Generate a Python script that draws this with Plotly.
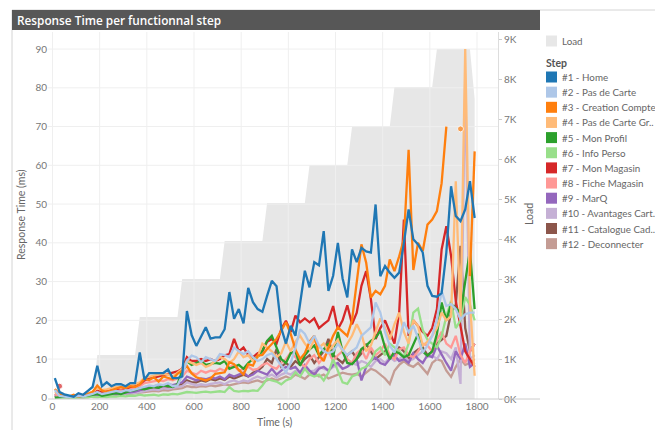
import plotly.graph_objects as go

# ---------------- data ----------------
time_s = list(range(10, 1800, 20))  # sample times (s), 90 samples

load = [
    0, 0, 0, 0, 0, 0, 0, 0, 0, 1100,
    1100, 1100, 1100, 1100, 1100, 1100, 1100, 1100, 2050, 2050,
    2050, 2050, 2050, 2050, 2050, 2050, 2050, 3000, 3000, 3000,
    3000, 3000, 3000, 3000, 3000, 3000, 3950, 3950, 3950, 3950,
    3950, 3950, 3950, 3950, 3950, 4900, 4900, 4900, 4900, 4900,
    4900, 4900, 4900, 4900, 5850, 5850, 5850, 5850, 5850, 5850,
    5850, 5850, 5850, 6800, 6800, 6800, 6800, 6800, 6800, 6800,
    6800, 6800, 7800, 7800, 7800, 7800, 7800, 7800, 7800, 7800,
    7800, 8750, 8750, 8750, 8750, 8750, 8750, 8750, 8750, 7500]

s1_home = [
    5.1, 1.5, 0.9, 0.5, 0.3, 1.2, 0.8, 1.8, 2.8, 8.3,
    3.0, 4.0, 3.0, 3.5, 3.5, 3.0, 3.8, 3.8, 11.7, 4.7,
    6.4, 6.4, 6.4, 6.4, 7.3, 5.1, 5.1, 5.5, 22.4, 16.2,
    13.4, 15.9, 18.2, 15.3, 15.6, 15.6, 17.7, 27.3, 20.4, 22.9,
    19.2, 28.4, 24.7, 22.9, 22.2, 26.3, 30.2, 28.8, 18.0, 14.0,
    18.6, 16.0, 25.0, 32.8, 28.5, 35.0, 34.2, 43.0, 27.6, 31.5,
    40.0, 30.8, 25.9, 38.3, 35.0, 38.7, 37.8, 37.5, 49.9, 31.4,
    34.0, 32.3, 31.0, 32.3, 40.0, 48.6, 40.9, 39.6, 37.5, 28.9,
    26.3, 26.1, 27.0, 37.5, 54.6, 46.9, 45.6, 48.6, 55.9, 46.4]

s2_pas_de_carte = [
    2.0, 0.5, 0.3, 0.2, 0.3, 0.5, 0.3, 0.6, 1.0, 1.5,
    1.0, 1.2, 1.5, 1.8, 1.5, 2.0, 1.8, 2.2, 2.5, 3.0,
    3.2, 3.0, 3.5, 3.3, 3.8, 3.0, 3.2, 5.7, 9.6, 10.9,
    10.5, 9.2, 10.5, 10.0, 9.5, 11.3, 11.0, 10.5, 13.0, 12.0,
    11.3, 12.0, 10.5, 9.5, 10.0, 11.0, 11.5, 10.0, 8.3, 6.6,
    9.0, 13.0, 17.7, 16.5, 14.0, 16.0, 13.5, 12.0, 11.5, 12.0,
    13.9, 12.5, 11.0, 12.0, 13.0, 16.0, 17.0, 18.2, 24.6, 22.0,
    17.0, 13.5, 11.7, 15.0, 19.5, 17.0, 18.6, 15.5, 11.7, 13.5,
    16.0, 20.3, 27.6, 23.7, 24.2, 22.9, 20.3, 21.6, 22.0, 22.0]

s3_creation_compte = [
    2.3, 1.0, 0.5, 0.3, 0.8, 0.3, 0.5, 1.0, 1.5, 3.2,
    1.9, 1.5, 2.0, 2.5, 2.8, 2.5, 3.0, 2.8, 3.5, 4.9,
    4.6, 5.3, 4.2, 5.5, 5.2, 4.8, 6.2, 7.0, 8.2, 6.3,
    5.3, 4.9, 4.5, 5.0, 6.2, 6.4, 6.6, 9.2, 8.7, 7.2,
    6.0, 8.7, 8.3, 10.9, 11.1, 12.6, 13.9, 15.2, 17.3, 19.5,
    16.5, 12.5, 10.0, 11.5, 14.5, 16.0, 11.0, 9.5, 13.0, 16.0,
    18.2, 17.0, 16.0, 20.0, 30.6, 39.6, 34.9, 25.9, 27.6, 26.7,
    28.9, 35.7, 32.7, 36.5, 41.0, 64.0, 33.0, 40.0, 37.9, 44.7,
    46.0, 48.2, 55.4, 70.0, None, None, 69.4, None, 31.4, 63.6]

s4_pas_de_carte_gr = [
    1.5, 0.8, 0.5, 0.3, 0.5, 0.4, 0.8, 1.2, 1.6, 2.5,
    2.0, 2.2, 2.5, 2.8, 2.6, 3.0, 3.2, 3.5, 4.0, 5.2,
    5.5, 5.8, 6.0, 6.2, 6.0, 5.5, 6.5, 7.5, 9.5, 9.0,
    8.5, 9.0, 8.0, 8.5, 9.5, 10.5, 10.0, 9.0, 10.0, 12.0,
    10.5, 11.0, 9.5, 10.5, 14.0, 13.0, 12.0, 10.5, 11.5, 14.5,
    12.0, 14.5, 16.0, 14.0, 12.5, 15.0, 13.0, 14.0, 12.0, 13.5,
    15.0, 12.0, 14.0, 16.0, 19.0, 16.5, 12.0, 13.5, 17.0, 20.5,
    18.0, 15.0, 19.0, 22.0, 17.0, 14.0, 20.0, 18.5, 13.5, 14.5,
    16.0, 18.0, 22.0, 20.0, 21.0, 55.9, 20.0, 90.0, 25.0, 5.7]

s5_mon_profil = [
    0.0, 0.2, 0.3, 0.2, 0.5, 0.3, 0.4, 0.6, 0.8, 1.0,
    0.5, 0.8, 1.0, 1.2, 1.0, 1.5, 1.8, 2.0, 2.5, 2.2,
    2.5, 2.8, 2.6, 3.2, 3.0, 2.8, 3.5, 7.0, 9.5, 8.5,
    9.0, 9.5, 8.5, 8.7, 9.0, 8.8, 9.5, 7.5, 8.0, 8.5,
    7.5, 9.0, 10.0, 10.5, 12.2, 14.7, 16.0, 13.0, 10.0, 9.0,
    11.5, 12.0, 8.3, 11.0, 12.5, 13.5, 11.0, 12.5, 14.0, 10.5,
    17.0, 12.0, 9.0, 8.7, 10.0, 12.6, 13.5, 14.7, 15.5, 17.3,
    13.0, 10.0, 12.0, 11.5, 10.5, 11.0, 14.0, 16.5, 12.0, 10.9,
    12.0, 16.5, 24.6, 20.0, 24.2, 23.0, 22.0, 30.0, 38.0, 22.9]

s6_info_perso = [
    0.0, 0.0, 0.1, 0.0, 0.1, 0.0, 0.2, 0.1, 0.3, 0.2,
    0.3, 0.2, 0.4, 0.3, 0.5, 0.4, 0.6, 0.5, 0.8, 0.6,
    0.7, 0.8, 0.6, 0.9, 0.8, 1.0, 0.9, 1.2, 1.5, 1.4,
    1.3, 1.5, 1.6, 1.4, 1.5, 1.7, 1.5, 2.8, 1.8, 1.6,
    1.8, 1.7, 1.9, 1.8, 3.2, 4.9, 4.5, 4.2, 3.5, 4.5,
    5.0, 6.6, 5.5, 7.5, 6.0, 5.5, 6.0, 4.5, 6.5, 10.0,
    7.0, 4.0, 3.6, 5.5, 6.0, 7.5, 8.0, 9.5, 12.0, 13.0,
    11.0, 14.0, 13.0, 12.0, 10.5, 14.0, 22.0, 23.0, 17.5, 15.0,
    14.0, 13.0, 16.0, 21.0, 25.0, 18.0, 20.0, 26.0, 24.0, 20.0]

s7_mon_magasin = [
    None, 3.0, None, 0.3, 0.4, 0.5, 0.6, 0.8, 1.0, 1.8,
    1.5, 1.8, 2.0, 2.2, 2.5, 2.3, 2.8, 3.0, 3.5, 4.5,
    5.0, 5.2, 5.5, 5.8, 6.0, 6.5, 6.8, 7.5, 10.5, 9.5,
    9.5, 10.0, 9.5, 10.0, 9.5, 10.0, 11.0, 11.3, 15.2, 12.0,
    13.0, 11.0, 10.5, 11.5, 12.0, 14.5, 15.2, 14.0, 17.7, 19.9,
    17.0, 21.2, 19.5, 20.5, 19.5, 20.5, 18.0, 19.0, 20.0, 23.7,
    17.7, 20.0, 23.9, 19.0, 22.0, 28.9, 32.7, 25.5, 15.2, 18.0,
    20.0, 17.0, 14.0, 22.0, 46.0, 16.0, 20.0, 18.5, 17.0, 16.0,
    18.0, 22.9, 38.3, 44.3, 36.6, 25.0, 18.0, 12.0, 10.0, 8.0]

s8_fiche_magasin = [
    1.0, 0.3, 0.2, 0.2, 0.3, 0.2, 0.4, 0.5, 0.8, 1.5,
    1.2, 1.5, 1.8, 2.0, 1.8, 2.2, 2.5, 2.5, 3.0, 3.8,
    4.0, 4.2, 4.5, 4.3, 4.8, 4.5, 5.0, 5.5, 7.0, 6.5,
    6.0, 7.0, 6.5, 7.0, 6.8, 7.5, 7.0, 8.0, 8.3, 7.0,
    7.5, 8.0, 7.2, 7.5, 8.5, 9.0, 8.0, 7.5, 9.0, 10.0,
    11.7, 10.5, 9.0, 8.0, 10.0, 11.0, 9.0, 10.5, 12.0, 9.5,
    11.0, 12.0, 10.0, 9.0, 11.5, 12.5, 10.0, 13.0, 11.0, 12.0,
    14.0, 11.0, 10.0, 12.5, 13.0, 11.0, 10.5, 12.0, 14.0, 13.5,
    12.0, 15.0, 17.0, 14.0, 13.0, 16.0, 11.0, 9.0, 12.0, 14.0]

s9_marq = [
    1.0, 0.2, 0.1, 0.1, 0.2, 0.1, 0.2, 0.3, 0.5, 0.8,
    0.8, 1.0, 1.2, 1.0, 1.3, 1.5, 1.4, 1.6, 2.0, 2.5,
    2.8, 3.0, 3.2, 3.0, 3.5, 3.3, 3.6, 4.0, 5.5, 5.0,
    4.5, 5.0, 4.8, 5.2, 5.0, 5.5, 4.8, 6.0, 5.5, 6.0,
    6.5, 5.5, 6.0, 7.0, 6.5, 6.0, 7.5, 6.0, 7.0, 8.0,
    7.5, 8.0, 6.5, 8.5, 7.0, 6.0, 7.5, 8.0, 7.0, 8.5,
    9.0, 7.5, 8.0, 9.0, 10.0, 4.5, 8.0, 9.5, 10.5, 9.0,
    8.5, 10.0, 11.0, 9.5, 10.0, 9.0, 11.5, 10.0, 9.0, 11.0,
    10.5, 13.4, 11.0, 9.0, 7.0, 12.0, 10.0, 14.0, 8.0, 9.0]

s10_avantages = [
    0.8, 0.2, 0.1, 0.1, 0.2, 0.2, 0.3, 0.3, 0.5, 0.6,
    0.5, 0.7, 0.8, 0.9, 1.0, 1.0, 1.2, 1.3, 1.5, 1.8,
    2.0, 2.2, 2.0, 2.5, 2.3, 2.6, 2.8, 3.0, 4.0, 3.5,
    3.2, 3.5, 3.3, 3.6, 3.8, 4.0, 3.5, 4.2, 4.5, 4.0,
    4.5, 4.2, 5.0, 5.5, 5.0, 5.5, 6.0, 5.2, 6.0, 6.5,
    6.0, 7.0, 6.5, 7.5, 6.8, 7.0, 8.0, 7.5, 7.0, 8.0,
    8.5, 7.5, 8.0, 9.0, 8.5, 9.5, 9.0, 8.0, 9.5, 10.0,
    9.0, 10.5, 9.5, 10.0, 11.0, 9.5, 10.0, 11.0, 12.0, 10.5,
    11.0, 10.0, 12.0, 11.5, 10.0, 13.0, 3.6, 82.0, 10.0, 11.0]

s11_catalogue = [
    0.5, 0.1, 0.1, 0.0, 0.1, 0.1, 0.2, 0.2, 0.3, 0.5,
    0.6, 0.8, 0.8, 1.0, 1.0, 1.2, 1.3, 1.5, 1.8, 2.0,
    2.2, 2.5, 2.3, 2.8, 2.6, 3.0, 3.2, 3.5, 4.5, 4.0,
    4.0, 4.5, 4.2, 4.8, 4.5, 5.0, 4.6, 5.5, 5.0, 5.5,
    6.0, 5.5, 6.5, 7.0, 8.0, 10.0, 9.0, 12.6, 8.0, 9.0,
    8.0, 9.5, 8.5, 10.0, 11.0, 9.0, 10.5, 12.0, 15.2, 11.0,
    10.0, 9.0, 11.0, 12.0, 10.0, 11.5, 13.9, 12.0, 10.0, 11.0,
    12.0, 10.5, 11.0, 13.0, 12.0, 10.0, 11.5, 12.5, 13.0, 11.0,
    12.0, 14.0, 15.0, 16.0, 22.0, 24.0, 39.2, 18.0, 12.0, 14.0]

s12_deconnecter = [
    0.5, 0.1, 0.0, 0.1, 0.1, 0.2, 0.2, 0.3, 0.4, 0.5,
    0.5, 0.6, 0.7, 0.8, 0.8, 1.0, 1.0, 1.2, 1.3, 1.5,
    1.6, 1.8, 1.7, 2.0, 1.9, 2.2, 2.3, 2.5, 3.0, 2.8,
    2.8, 3.0, 2.9, 3.2, 3.0, 3.3, 3.5, 3.2, 3.6, 3.8,
    4.0, 3.8, 4.2, 4.5, 4.0, 4.5, 5.0, 4.5, 5.0, 5.5,
    5.0, 6.0, 5.5, 4.9, 6.0, 6.5, 5.5, 6.0, 5.0, 5.5,
    6.0, 6.5, 6.2, 6.0, 6.2, 5.5, 6.5, 7.5, 7.0, 6.0,
    5.0, 3.6, 7.0, 8.5, 9.5, 8.5, 8.0, 9.0, 7.5, 6.2,
    9.0, 10.0, 9.5, 7.0, 5.4, 8.0, 10.0, 8.5, 9.0, 10.0]

step_names = [
    "#1 - Home", "#2 - Pas de Carte", "#3 - Creation Compte",
    "#4 - Pas de Carte Gr..", "#5 - Mon Profil", "#6 - Info Perso",
    "#7 - Mon Magasin", "#8 - Fiche Magasin", "#9 - MarQ",
    "#10 - Avantages Cart..", "#11 - Catalogue Cad..", "#12 - Deconnecter"]
step_values = [s1_home, s2_pas_de_carte, s3_creation_compte, s4_pas_de_carte_gr,
               s5_mon_profil, s6_info_perso, s7_mon_magasin, s8_fiche_magasin,
               s9_marq, s10_avantages, s11_catalogue, s12_deconnecter]
step_colors = ["#1f77b4", "#aec7e8", "#ff7f0e", "#ffbb78", "#2ca02c", "#98df8a",
               "#d62728", "#ff9896", "#9467bd", "#c5b0d5", "#8c564b", "#c49c94"]

x_ticks = [0, 200, 400, 600, 800, 1000, 1200, 1400, 1600, 1800]
rt_ticks = [0, 10, 20, 30, 40, 50, 60, 70, 80, 90]
load_ticks = [0, 1000, 2000, 3000, 4000, 5000, 6000, 7000, 8000, 9000]
load_tick_labels = ["0K", "1K", "2K", "3K", "4K", "5K", "6K", "7K", "8K", "9K"]

# ---------------- layout geometry ----------------
# The page body has an 8px margin, so the figure starts at window pixel (8, 8).
OFF = 8
WIN_W, WIN_H = 663, 430
W, H = WIN_W - OFF, WIN_H - OFF
PL, PR, PT, PB = 48, 498, 32, 399          # plot area in window pixels
X_RANGE = [-19, 1889]
RT_RANGE = [-0.3, 94.4]
LOAD_RANGE = [0, 9175]
FONT = "Lato, Open Sans, sans-serif"
LOAD_COLOR = "#e7e7e7"
GRID_COLOR = "#efefef"


def px(x):
    return (x - PL) / (PR - PL)


def py(y):
    return (PB - y) / (PB - PT)


fig = go.Figure()

# load area on primary axis (drawn first, under everything)
fig.add_trace(go.Scatter(
    x=time_s, y=load, mode="lines", fill="tozeroy", fillcolor=LOAD_COLOR,
    line=dict(width=0, color=LOAD_COLOR), name="Load", showlegend=False,
    hoverinfo="skip", xaxis="x", yaxis="y"))

# grid lines above the load area
gx, gy = [], []
for v in rt_ticks[1:]:
    gx += [X_RANGE[0], X_RANGE[1], None]
    gy += [v, v, None]
for v in x_ticks:
    gx += [v, v, None]
    gy += [RT_RANGE[0], RT_RANGE[1], None]
fig.add_trace(go.Scatter(x=gx, y=gy, mode="lines", line=dict(color=GRID_COLOR, width=1),
                         showlegend=False, hoverinfo="skip", xaxis="x", yaxis="y2"))

# response time lines (last step drawn first so #1 is on top)
for name, vals, col in reversed(list(zip(step_names, step_values, step_colors))):
    sizes = []
    for i, v in enumerate(vals):
        prev_none = i == 0 or vals[i - 1] is None
        next_none = i == len(vals) - 1 or vals[i + 1] is None
        sizes.append(6 if (v is not None and prev_none and next_none) else 0)
    fig.add_trace(go.Scatter(
        x=time_s, y=vals, mode="lines+markers", name=name,
        line=dict(color=col, width=2.3), marker=dict(size=sizes, color=col),
        connectgaps=False, showlegend=False, xaxis="x", yaxis="y2"))

shapes = []
annotations = []

# outer frame + shadow
shapes.append(dict(type="rect", xref="paper", yref="paper",
                   x0=px(12), x1=px(656), y0=py(10), y1=py(440),
                   line=dict(color="#d4d4d4", width=1), fillcolor="rgba(0,0,0,0)", layer="below"))
shapes.append(dict(type="rect", xref="paper", yref="paper",
                   x0=px(657), x1=px(661), y0=py(12), y1=py(440),
                   line=dict(width=0), fillcolor="#ececec", layer="below"))
# title bar
shapes.append(dict(type="rect", xref="paper", yref="paper",
                   x0=px(12), x1=px(540), y0=py(10), y1=py(30),
                   line=dict(width=0), fillcolor="#575757", layer="above"))
annotations.append(dict(xref="paper", yref="paper", x=px(15), y=py(20),
                        xanchor="left", yanchor="middle", showarrow=False,
                        text="Response Time per functionnal step",
                        font=dict(family="Open Sans, sans-serif", size=11.8, color="white", weight=600)))
# bottom axis line
shapes.append(dict(type="line", xref="paper", yref="paper",
                   x0=px(PL), x1=px(540), y0=py(PB), y1=py(PB),
                   line=dict(color="#cccccc", width=1), layer="above"))

# axis titles
annotations.append(dict(xref="paper", yref="paper", x=px(21), y=py(215), textangle=-90,
                        xanchor="center", yanchor="middle", showarrow=False,
                        text="Response Time (ms)", font=dict(family=FONT, size=10.5, color="#666666")))
annotations.append(dict(xref="paper", yref="paper", x=px(529), y=py(214), textangle=-90,
                        xanchor="center", yanchor="middle", showarrow=False,
                        text="Load", font=dict(family=FONT, size=10.5, color="#666666")))
annotations.append(dict(xref="paper", yref="paper", x=px(274), y=py(422),
                        xanchor="center", yanchor="middle", showarrow=False,
                        text="Time (s)", font=dict(family=FONT, size=10.5, color="#666666")))

# custom legend
LX = 546
SQ = 11
LEG_FONT = dict(family=FONT, size=9.8, color="#666666")
shapes.append(dict(type="rect", xref="paper", yref="paper",
                   x0=px(LX), x1=px(LX + SQ), y0=py(41 - SQ / 2), y1=py(41 + SQ / 2),
                   line=dict(width=0), fillcolor=LOAD_COLOR))
annotations.append(dict(xref="paper", yref="paper", x=px(560), y=py(41),
                        xanchor="left", yanchor="middle", showarrow=False, text="Load",
                        font=LEG_FONT))
annotations.append(dict(xref="paper", yref="paper", x=px(544), y=py(63),
                        xanchor="left", yanchor="middle", showarrow=False, text="<b>Step</b>",
                        font=dict(family=FONT, size=10.5, color="#555555")))
for i, (name, col) in enumerate(zip(step_names, step_colors)):
    yc = 77 + i * 15.15
    shapes.append(dict(type="rect", xref="paper", yref="paper",
                       x0=px(LX), x1=px(LX + SQ), y0=py(yc - SQ / 2), y1=py(yc + SQ / 2),
                       line=dict(width=0), fillcolor=col))
    annotations.append(dict(xref="paper", yref="paper", x=px(560), y=py(yc),
                            xanchor="left", yanchor="middle", showarrow=False, text=name,
                            font=LEG_FONT))

tickfont = dict(family=FONT, size=10, color="#777777")
fig.update_layout(
    width=W, height=H,
    margin=dict(l=PL - OFF, r=WIN_W - PR, t=PT - OFF, b=WIN_H - PB, pad=0),
    paper_bgcolor="white", plot_bgcolor="white",
    showlegend=False,
    xaxis=dict(range=X_RANGE, tickvals=x_ticks, showgrid=False, zeroline=False,
               showline=False, ticks="", tickfont=tickfont),
    yaxis=dict(range=LOAD_RANGE, side="right", tickvals=load_ticks, ticktext=load_tick_labels,
               showgrid=False, zeroline=False, showline=True, linecolor="#dddddd",
               ticks="outside", ticklen=3, tickcolor="#cccccc", tickfont=tickfont),
    yaxis2=dict(range=RT_RANGE, side="left", overlaying="y", tickvals=rt_ticks,
                showgrid=False, zeroline=False, showline=False, ticks="", tickfont=tickfont),
    shapes=shapes, annotations=annotations,
)

fig.write_html("out.html")
